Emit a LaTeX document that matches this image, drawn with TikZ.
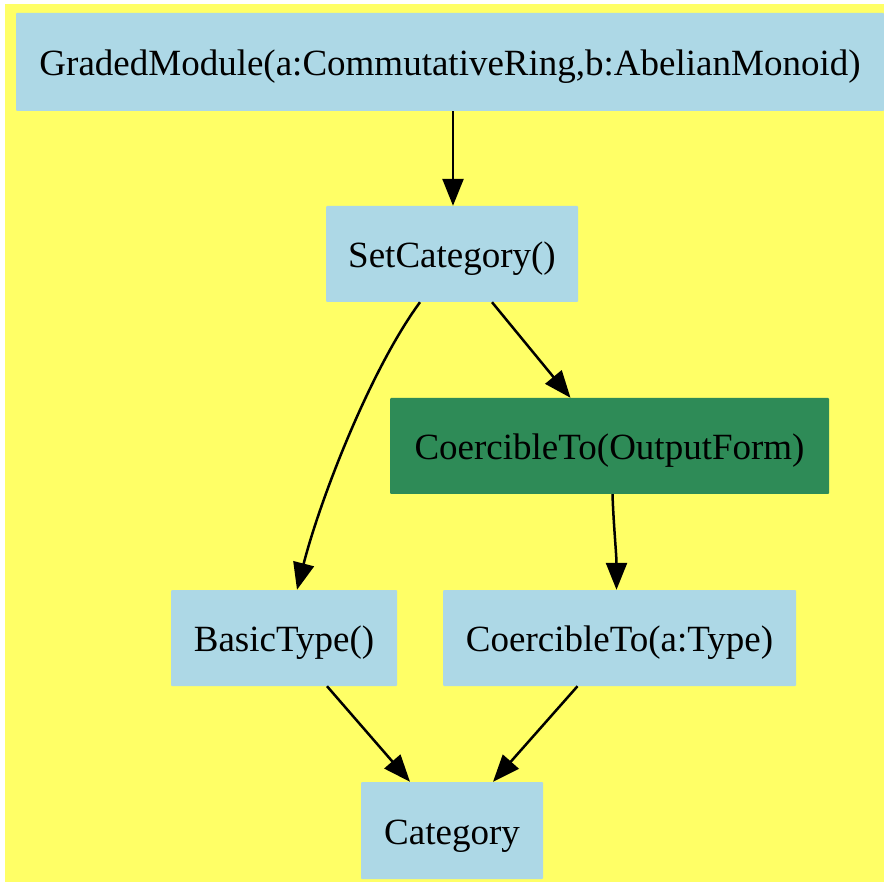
\documentclass[tikz,border=0pt]{standalone}
\usepackage{fontspec}
\setmainfont{Liberation Serif}
\usetikzlibrary{arrows.meta}
\definecolor{bgyellow}{HTML}{FFFF66}
\definecolor{lblue}{HTML}{ADD8E6}
\definecolor{sgreen}{HTML}{2E8B57}
\tikzset{
  cat/.style={fill=lblue, draw=none, inner sep=0pt, anchor=center,
    font=\fontsize{37}{44}\selectfont, rounded corners=1pt,
    text height=27pt, text depth=0pt},
  catg/.style={cat, fill=sgreen},
  edge/.style={line width=2.5pt, -{Triangle[length=27pt,width=21pt]}}
}
\begin{document}
\begin{tikzpicture}[x=1pt,y=-1pt]
\useasboundingbox (0,0) rectangle (884,882);
\fill[bgyellow] (5,4) rectangle (884,882);
\node[cat, minimum width=868pt, minimum height=98pt] (gm) at (450,62) {GradedModule(a:CommutativeRing,b:AbelianMonoid)};
\node[cat, minimum width=252pt, minimum height=96pt] (sc) at (452,254) {SetCategory()};
\node[catg, minimum width=439pt, minimum height=96pt] (cto) at (609.5,446) {CoercibleTo(OutputForm)};
\node[cat, minimum width=226pt, minimum height=96pt] (bt) at (284,638) {BasicType()};
\node[cat, minimum width=353pt, minimum height=96pt] (ctt) at (619.5,638) {CoercibleTo(a:Type)};
\node[cat, minimum width=182pt, minimum height=97pt] (ca) at (452,830.5) {Category};
\draw[edge] ([xshift=3pt]gm.south) -- ([xshift=1pt]sc.north);
\draw[edge] ([xshift=-32pt]sc.south) .. controls ([xshift=-82pt,yshift=-68pt]sc.south) and ([xshift=36pt,yshift=90pt]bt.north) .. ([xshift=13pt]bt.north);
\draw[edge] ([xshift=40pt]sc.south) -- ([xshift=-39pt]cto.north);
\draw[edge] ([xshift=3pt]cto.south) .. controls ([xshift=4pt,yshift=-30pt]cto.south) and ([xshift=-3pt,yshift=35pt]ctt.north) .. ([xshift=-3pt]ctt.north);
\draw[edge] ([xshift=43pt]bt.south) -- ([xshift=-42pt]ca.north);
\draw[edge] ([xshift=-42pt]ctt.south) -- ([xshift=41pt]ca.north);
\end{tikzpicture}
\end{document}
